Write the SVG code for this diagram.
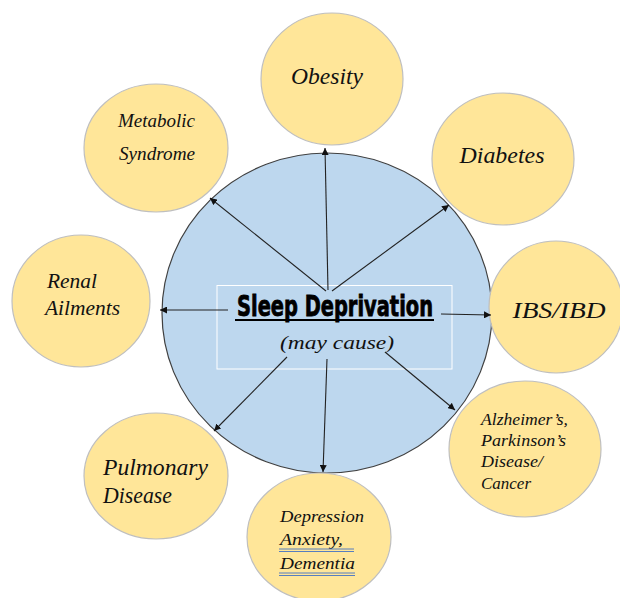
<svg xmlns="http://www.w3.org/2000/svg" width="620" height="598" viewBox="0 0 620 598">
  <style>
    .leaf { fill: #FFE699; stroke: #BFBFBF; stroke-width: 1.2; }
    .hub { fill: #BDD7EE; stroke: #404040; stroke-width: 1.2; }
    .lbl { font-family: "Liberation Serif", "DejaVu Serif", serif; font-style: italic; fill: #111; }
    .edge { stroke: #222; stroke-width: 1.1; fill: none; marker-end: url(#tip); }
    .dbl { stroke: #4472C4; stroke-width: 0.9; }
  </style>
  <defs>
    <marker id="tip" viewBox="0 0 10 10" refX="10" refY="5" markerWidth="7" markerHeight="7" markerUnits="userSpaceOnUse" orient="auto">
      <path d="M0,0 L10,5 L0,10 z" fill="#111"/>
    </marker>
  </defs>
  <rect width="620" height="598" fill="#fff"/>

  <!-- central hub -->
  <g id="hub">
    <ellipse class="hub" cx="327" cy="313" rx="165" ry="160"/>
    <rect x="217" y="285.5" width="235" height="83.5" fill="none" stroke="#fff" stroke-width="1"/>
    <text x="335" y="316" text-anchor="middle" font-family="DejaVu Sans Condensed, DejaVu Sans, sans-serif" font-weight="bold" font-size="29" stroke="#000" stroke-width="0.8" textLength="196" lengthAdjust="spacingAndGlyphs">Sleep Deprivation</text>
    <line x1="235" y1="320" x2="434" y2="320" stroke="#000" stroke-width="2"/>
    <text x="337" y="349" text-anchor="middle" class="lbl" font-size="19" textLength="114" lengthAdjust="spacingAndGlyphs">(may cause)</text>
  </g>

  <!-- outcome nodes -->
  <g id="obesity">
    <ellipse class="leaf" cx="332" cy="79" rx="71" ry="66"/>
    <text class="lbl" x="327" y="84" text-anchor="middle" font-size="24" textLength="72" lengthAdjust="spacingAndGlyphs">Obesity</text>
  </g>
  <g id="diabetes">
    <ellipse class="leaf" cx="503" cy="159" rx="71" ry="66"/>
    <text class="lbl" x="502" y="163" text-anchor="middle" font-size="24" textLength="85" lengthAdjust="spacingAndGlyphs">Diabetes</text>
  </g>
  <g id="ibs">
    <ellipse class="leaf" cx="556" cy="307" rx="67" ry="66"/>
    <text class="lbl" x="559" y="318" text-anchor="middle" font-size="24" textLength="93" lengthAdjust="spacingAndGlyphs">IBS/IBD</text>
  </g>
  <g id="neuro">
    <ellipse class="leaf" cx="525" cy="449" rx="76" ry="68"/>
    <text class="lbl" font-size="17">
      <tspan x="481" y="425" textLength="87" lengthAdjust="spacingAndGlyphs">Alzheimer’s,</tspan>
      <tspan x="481" y="446" textLength="85" lengthAdjust="spacingAndGlyphs">Parkinson’s</tspan>
      <tspan x="481" y="467" textLength="62" lengthAdjust="spacingAndGlyphs">Disease/</tspan>
      <tspan x="481" y="489" textLength="50" lengthAdjust="spacingAndGlyphs">Cancer</tspan>
    </text>
  </g>
  <g id="mental">
    <ellipse class="leaf" cx="319" cy="537" rx="72" ry="64"/>
    <text class="lbl" font-size="17.5">
      <tspan x="280" y="522" textLength="84" lengthAdjust="spacingAndGlyphs">Depression</tspan>
      <tspan x="280" y="545" textLength="63" lengthAdjust="spacingAndGlyphs">Anxiety,</tspan>
      <tspan x="280" y="569" textLength="75" lengthAdjust="spacingAndGlyphs">Dementia</tspan>
    </text>
    <line class="dbl" x1="279" y1="549" x2="354" y2="549"/>
    <line class="dbl" x1="279" y1="551.5" x2="354" y2="551.5"/>
    <line class="dbl" x1="279" y1="573" x2="355" y2="573"/>
    <line class="dbl" x1="279" y1="575.5" x2="355" y2="575.5"/>
  </g>
  <g id="pulmonary">
    <ellipse class="leaf" cx="156" cy="476" rx="72" ry="63"/>
    <text class="lbl" font-size="23">
      <tspan x="103" y="475" textLength="105" lengthAdjust="spacingAndGlyphs">Pulmonary</tspan>
      <tspan x="103" y="503" textLength="69" lengthAdjust="spacingAndGlyphs">Disease</tspan>
    </text>
  </g>
  <g id="renal">
    <ellipse class="leaf" cx="81" cy="301" rx="69" ry="66"/>
    <text class="lbl" font-size="21">
      <tspan x="47" y="288" textLength="50" lengthAdjust="spacingAndGlyphs">Renal</tspan>
      <tspan x="45" y="315" textLength="75" lengthAdjust="spacingAndGlyphs">Ailments</tspan>
    </text>
  </g>
  <g id="metabolic">
    <ellipse class="leaf" cx="156" cy="148" rx="72" ry="64"/>
    <text class="lbl" font-size="18.5">
      <tspan x="118" y="127" textLength="77" lengthAdjust="spacingAndGlyphs">Metabolic</tspan>
      <tspan x="119" y="160" textLength="76" lengthAdjust="spacingAndGlyphs">Syndrome</tspan>
    </text>
  </g>

  <!-- connectors -->
  <g id="connectors">
    <line class="edge" x1="328" y1="290" x2="325" y2="148"/>
    <line class="edge" x1="326" y1="291" x2="210" y2="198"/>
    <line class="edge" x1="332" y1="291" x2="449" y2="205"/>
    <line class="edge" x1="228" y1="310" x2="160" y2="310"/>
    <line class="edge" x1="441" y1="314" x2="491" y2="315"/>
    <line class="edge" x1="287" y1="357" x2="214" y2="431"/>
    <line class="edge" x1="327" y1="359" x2="323" y2="472"/>
    <line class="edge" x1="385" y1="352" x2="455" y2="410"/>
  </g>
</svg>
